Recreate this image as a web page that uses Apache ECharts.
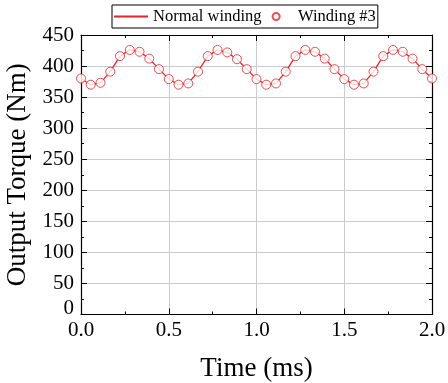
<!DOCTYPE html>
<html><head><meta charset="utf-8">
<script src="https://cdn.jsdelivr.net/npm/echarts@6/dist/echarts.min.js"></script>
<style>html,body{margin:0;padding:0;background:#fff}#c{width:448px;height:383px}</style>
</head><body><div id="c"></div>
<script>
const timeMs = [0.0000,0.0556,0.1111,0.1667,0.2222,0.2778,0.3333,0.3889,0.4444,0.5000,0.5556,0.6111,0.6667,0.7222,0.7778,0.8333,0.8889,0.9444,1.0000,1.0556,1.1111,1.1667,1.2222,1.2778,1.3333,1.3889,1.4444,1.5000,1.5556,1.6111,1.6667,1.7222,1.7778,1.8333,1.8889,1.9444,2.0000];
const normalWinding = [380,370,373,391,416,426,423,412,395,379,370,372,391,416,426,422,411,395,379,370,372,391,416,426,423,412,395,379,370,372,391,416,426,423,412,395,380];
const winding3 = [380,370,373,391,416,426,423,412,395,379,370,372,391,416,426,422,411,395,379,370,372,391,416,426,423,412,395,379,370,372,391,416,426,423,412,395,380];
const xTicks = [0,0.5,1.0,1.5,2.0];
const yTicks = [0,50,100,150,200,250,300,350,400,450];

const red = '#e8232a';
const font = 'Liberation Serif';
const chart = echarts.init(document.getElementById('c'), null, {renderer:'canvas'});
const pair = (xs, ys) => xs.map((x,i)=>[x, ys[i]]);
const axisBase = {
  axisLine:{show:true, onZero:false, lineStyle:{color:'#000', width:1.2}},
  axisTick:{show:true, inside:true, length:6, lineStyle:{color:'#000', width:1}},
  minorTick:{show:true, splitNumber:2, length:3, lineStyle:{color:'#000', width:1}},
};
chart.setOption({
  animation:false,
  backgroundColor:'#fff',
  legend:{
    top:5, left:112,
    data:[{name:'Normal winding', itemStyle:{opacity:0}}, {name:'Winding #3'}],
    borderColor:'#000', borderWidth:1, padding:[3,2,3,1],
    itemWidth:34, itemHeight:7, itemGap:10,
    textStyle:{fontFamily:font, fontSize:16.5, color:'#000'}
  },
  grid:{left:81, right:16, top:35, bottom:68.5, containLabel:false, outerBoundsMode:'none'},
  xAxis:[
    Object.assign({}, axisBase, {
      type:'value', min:0, max:2, interval:0.5, position:'bottom',
      name:'Time (ms)', nameLocation:'middle', nameGap:41,
      nameTextStyle:{fontFamily:font, fontSize:27, color:'#000'},
      axisLabel:{fontFamily:font, fontSize:21, color:'#000', margin:5, formatter:v=>v.toFixed(1)},
      splitLine:{show:true, lineStyle:{color:'#cccccc', width:1}}
    }),
    Object.assign({}, axisBase, {
      type:'value', min:0, max:2, interval:0.5, position:'top',
      axisLabel:{show:false}, splitLine:{show:false}
    })
  ],
  yAxis:[
    Object.assign({}, axisBase, {
      type:'value', min:0, max:450, interval:50, position:'left',
      name:'Output Torque (Nm)', nameLocation:'middle', nameGap:47,
      nameTextStyle:{fontFamily:font, fontSize:27, color:'#000'},
      axisLabel:{fontFamily:font, fontSize:21, color:'#000', margin:7,
        formatter:v=> v===0 ? '{z|0}' : String(v),
        rich:{z:{fontFamily:font, fontSize:21, color:'#000', padding:[0,0,12,0]}}},
      splitLine:{show:true, lineStyle:{color:'#cccccc', width:1}}
    }),
    Object.assign({}, axisBase, {
      type:'value', min:0, max:450, interval:50, position:'right',
      axisLabel:{show:false}, splitLine:{show:false}
    })
  ],
  series:[
    {name:'Normal winding', type:'line', data:pair(timeMs, normalWinding),
     symbol:'none',
     itemStyle:{color:red}, lineStyle:{color:red, width:1.3}, z:2},
    {name:'Winding #3', type:'scatter', data:pair(timeMs, winding3),
     symbol:'circle', symbolSize:9,
     itemStyle:{color:'#fff', borderColor:red, borderWidth:1}, z:3}
  ]
});
</script></body></html>
